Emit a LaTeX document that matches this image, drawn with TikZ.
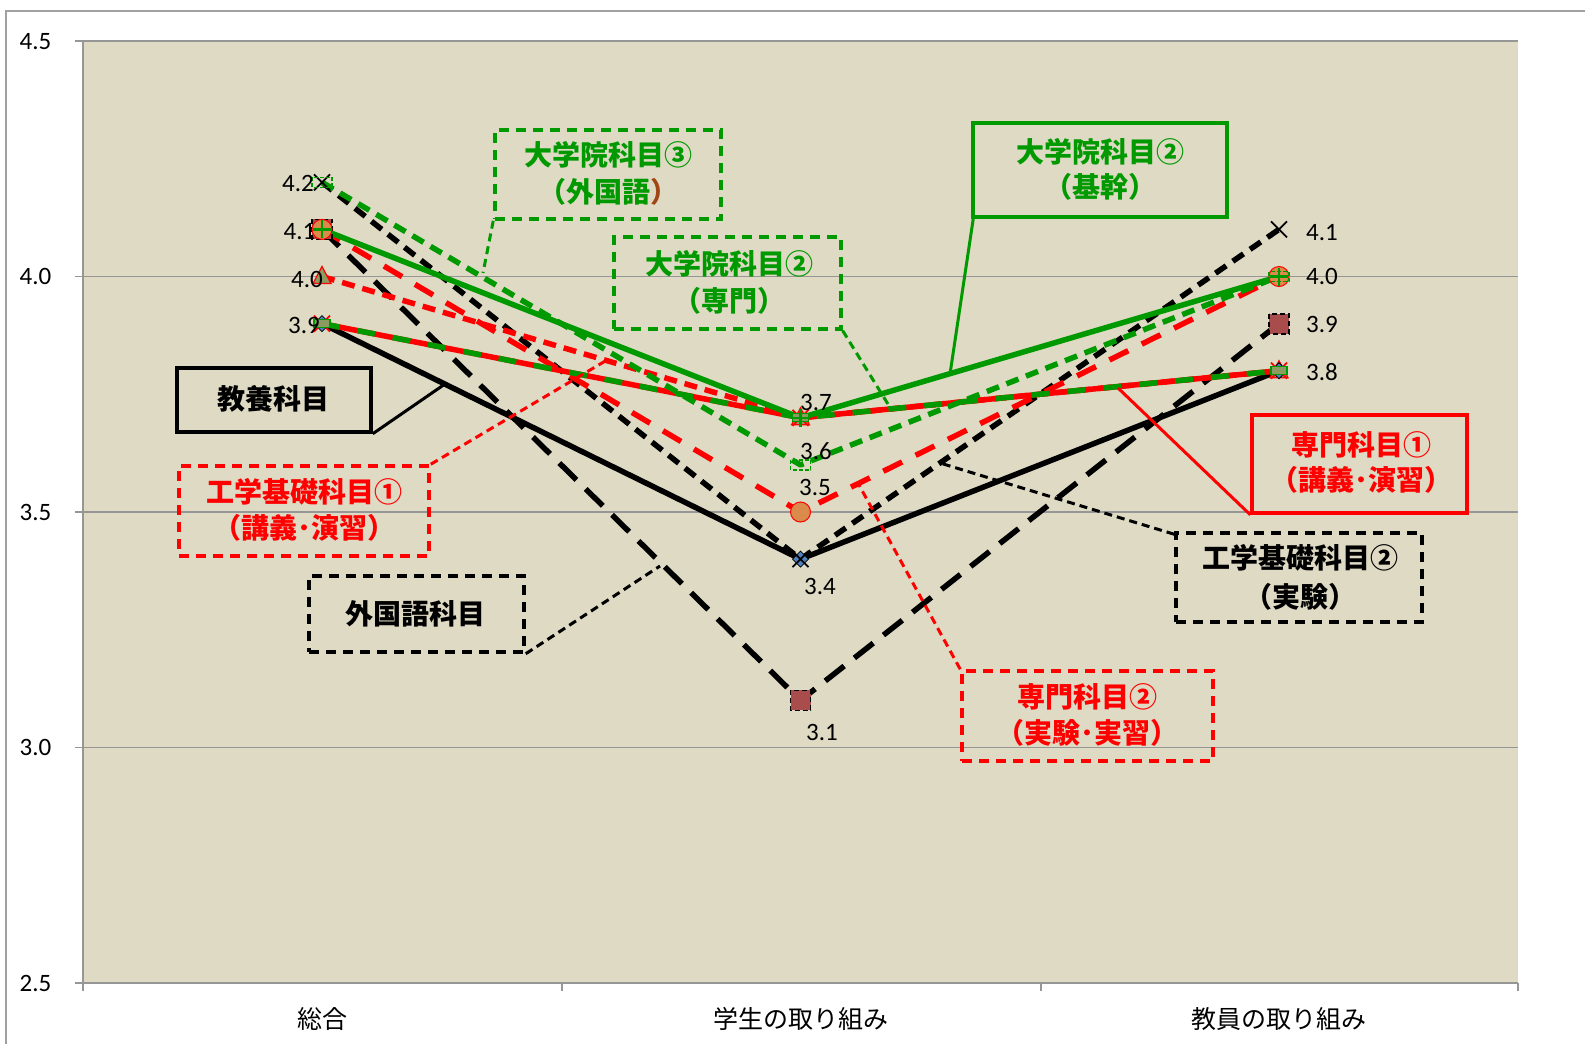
\documentclass[tikz,border=0pt]{standalone}
\usepackage{fontspec}
\setmainfont{Carlito}
\newfontfamily\jp{Noto Sans CJK JP}
\usetikzlibrary{shapes.geometric,shapes.misc}
\definecolor{plotbg}{RGB}{222,218,196}
\definecolor{gridc}{RGB}{150,150,150}
\definecolor{framec}{RGB}{160,160,160}
\definecolor{gr}{RGB}{0,153,0}
\definecolor{rd}{RGB}{255,0,0}
\definecolor{sqfill}{RGB}{168,76,76}
\definecolor{circfill}{RGB}{218,138,74}
\definecolor{trifill}{RGB}{140,155,95}
\definecolor{dia}{RGB}{79,129,189}
\definecolor{brownp}{RGB}{160,70,20}
\tikzset{
  ser/.style={line width=5.5pt, line join=round},
  longdash/.style={dash pattern=on 24pt off 13pt},
  shortdash/.style={dash pattern=on 13pt off 8pt},
  reddash/.style={dash pattern=on 21pt off 15pt},
  conn/.style={line width=3pt},
  conndash/.style={line width=3pt, dash pattern=on 8pt off 5pt},
  boxsolid/.style={draw, line width=3.5pt, inner sep=0pt},
  boxdash/.style={draw, line width=3.5pt, inner sep=0pt, dash pattern=on 10pt off 7pt},
  boxtext/.style={font=\jp\bfseries\fontsize{28}{30}\selectfont, text height=21pt, text depth=0pt, inner sep=0pt},
  val/.style={font=\fontsize{25}{27}\selectfont, text height=16pt, text depth=0pt, inner sep=0pt},
  cat/.style={font=\jp\fontsize{25}{27}\selectfont, text height=19pt, text depth=0pt, inner sep=0pt},
  pics/xm/.style={code={\draw[#1, line width=1.8pt] (-8,-8)--(8,8) (-8,8)--(8,-8);}},
  pics/plusm/.style={code={\draw[gr, line width=2.4pt] (-9,0)--(9,0) (0,-9)--(0,9);}},
  pics/diam/.style={code={\filldraw[fill=dia, draw=black, line width=0.8pt] (0,-8)--(8,0)--(0,8)--(-8,0)--cycle;}},
  pics/trim/.style={code={\filldraw[fill=trifill, draw=rd, line width=1.2pt] (0,-10)--(9,7)--(-9,7)--cycle;}},
  pics/circm/.style={code={\filldraw[fill=circfill, draw=rd, line width=1pt] (0,0) circle (10);}},
  pics/sqm/.style={code={\filldraw[fill=sqfill, draw=black, line width=1.8pt, dash pattern=on 5pt off 3pt] (-10,-10) rectangle (10,10);}},
  pics/gdrect/.style={code={\draw[gr, line width=1.6pt, dash pattern=on 4pt off 2pt] (-10,-5) rectangle (10,5);}},
  pics/gsq/.style={code={\filldraw[fill=trifill, draw=gr, line width=1.2pt] (-8,-4) rectangle (8,4);}},
}
\begin{document}
\begin{tikzpicture}[x=1pt, y={(0pt,-1pt)}]
\useasboundingbox (0,0) rectangle (1585,1044);
% frame and plot area
\fill[white] (0,0) rectangle (1585,1044);
\draw[framec, line width=2pt] (6,1044) -- (6,11) -- (1585,11);
\fill[plotbg] (83,41) rectangle (1518,983);
\foreach \yy in {41,276.5,512,747.5,983} {\draw[gridc, line width=1.5pt] (75,\yy) -- (1518,\yy);}
\draw[gridc, line width=1.5pt] (83,41) -- (83,991);
\foreach \xx in {562,1041,1518} {\draw[gridc, line width=1.5pt] (\xx,983) -- (\xx,991);}
% axis labels
\node[val] (y45) at (35.5,41) {4.5};
\node[val] (y40) at (35.5,276.5) {4.0};
\node[val] (y35) at (35.5,512) {3.5};
\node[val] (y30) at (35.5,747.5) {3.0};
\node[val] (y25) at (35.5,983) {2.5};
\node[cat] (x1) at (322,1018.5) {総合};
\node[cat] (x2) at (800.5,1018.5) {学生の取り組み};
\node[cat] (x3) at (1279,1018.5) {教員の取り組み};
% data points
\coordinate (a42) at (322,182.3);
\coordinate (a41) at (322,229.4);
\coordinate (a40) at (322,276.5);
\coordinate (a39) at (322,323.6);
\coordinate (b37) at (800.5,417.8);
\coordinate (b36) at (800.5,464.9);
\coordinate (b35) at (800.5,512);
\coordinate (b34) at (800.5,559.1);
\coordinate (b31) at (800.5,700.4);
\coordinate (c41) at (1279,229.4);
\coordinate (c40) at (1279,276.5);
\coordinate (c39) at (1279,323.6);
\coordinate (c38) at (1279,370.7);
% series
\draw[ser, black] (a39) -- (b34) -- (c38);
\draw[ser, black, longdash] (a41) -- (b31) -- (c39);
\draw[ser, black, shortdash] (a42) -- (b34) -- (c41);
\draw[ser, rd, shortdash] (a40) -- (b37) -- (c38);
\draw[ser, rd, reddash] (a41) -- (b35) -- (c40);
\draw[ser, rd] (a39) -- (b37) -- (c38);
\draw[ser, gr, dash pattern=on 18pt off 18pt] (a39) -- (b37) -- (c38);
\draw[ser, gr] (a41) -- (b37) -- (c40);
\draw[ser, gr, shortdash] (a42) -- (b36) -- (c40);
% markers
\foreach \p in {a41,b31,c39} {\pic at (\p) {sqm};}
\foreach \p in {a41,b35,c40} {\pic at (\p) {circm};}
\foreach \p in {a40,b37,c38} {\pic at (\p) {trim};}
\foreach \p in {a39,b34,c38} {\pic at (\p) {diam};}
\foreach \p in {a42,b34,c41} {\pic at (\p) {xm=black};}
\foreach \p in {a39,b37,c38} {\pic at (\p) {xm=rd};}
\foreach \p in {a39,b37,c38} {\pic at (\p) {gsq};}
\foreach \p in {a42,b36,c40} {\pic at (\p) {gdrect};}
\foreach \p in {a41,b37,c40} {\pic at (\p) {plusm};}
% value labels
\node[val] (v1) at (298,183) {4.2};
\node[val] (v2) at (299.5,231) {4.1};
\node[val] (v3) at (307,279) {4.0};
\node[val] (v4) at (304,325) {3.9};
\node[val] (v5) at (816,402) {3.7};
\node[val] (v6) at (816,451) {3.6};
\node[val] (v7) at (815,487) {3.5};
\node[val] (v8) at (820,586) {3.4};
\node[val] (v9) at (822,732) {3.1};
\node[val] (v10) at (1322,232) {4.1};
\node[val] (v11) at (1322,276) {4.0};
\node[val] (v12) at (1322,324) {3.9};
\node[val] (v13) at (1322,372) {3.8};
% label boxes
\node[boxdash, gr, minimum width=226pt, minimum height=89pt] (b1) at (608,174.5) {};
\node[boxtext, text=gr] (b1a) at (608,155) {大学院科目③};
\node[boxtext, text=gr] (b1b) at (608,192) {（外国語\textcolor{brownp}{）}};
\node[boxdash, gr, minimum width=227pt, minimum height=92pt] (b2) at (727.5,283) {};
\node[boxtext, text=gr] (b2a) at (729,264) {大学院科目②};
\node[boxtext, text=gr] (b2b) at (729,301) {（専門）};
\node[boxsolid, gr, minimum width=254pt, minimum height=94pt] (b3) at (1100,170) {};
\node[boxtext, text=gr] (b3a) at (1100,152) {大学院科目②};
\node[boxtext, text=gr] (b3b) at (1100,187) {（基幹）};
\node[boxsolid, black, minimum width=194pt, minimum height=64pt] (b4) at (274,400) {};
\node[boxtext] (b4a) at (273,399) {教養科目};
\node[boxdash, rd, minimum width=250pt, minimum height=90pt] (b5) at (304,511) {};
\node[boxtext, text=rd] (b5a) at (304,492) {工学基礎科目①};
\node[boxtext, text=rd] (b5b) at (304,528) {（講義･演習）};
\node[boxdash, black, minimum width=215pt, minimum height=76pt] (b6) at (416.5,614) {};
\node[boxtext] (b6a) at (415,614) {外国語科目};
\node[boxdash, black, minimum width=246pt, minimum height=89pt] (b7) at (1299,577.5) {};
\node[boxtext] (b7a) at (1300,558) {工学基礎科目②};
\node[boxtext] (b7b) at (1300,597) {（実験）};
\node[boxsolid, rd, minimum width=215pt, minimum height=98pt] (b8) at (1359.5,464) {};
\node[boxtext, text=rd] (b8a) at (1361,445) {専門科目①};
\node[boxtext, text=rd] (b8b) at (1361,480) {（講義･演習）};
\node[boxdash, rd, minimum width=251pt, minimum height=90pt] (b9) at (1087.5,716) {};
\node[boxtext, text=rd] (b9a) at (1087,697) {専門科目②};
\node[boxtext, text=rd] (b9b) at (1087,733) {（実験･実習）};
% connector ends
\coordinate (k1) at (483,273);
\coordinate (k2) at (891,409);
\coordinate (k3) at (950,374);
\coordinate (k4) at (445,384);
\coordinate (k5) at (607,360);
\coordinate (k6) at (660,566);
\coordinate (k7) at (940,463);
\coordinate (k8) at (1118,388);
\coordinate (k9) at (859,485);
% connectors
\draw[conndash, gr] (b1.south west) -- (k1);
\draw[conndash, gr] (b2.south east) -- (k2);
\draw[conn, gr] ([xshift=2pt]b3.south west) -- (k3);
\draw[conn, black] (b4.south east) -- (k4);
\draw[conndash, rd] (b5.north east) -- (k5);
\draw[conndash, black] (b6.south east) -- (k6);
\draw[conndash, black] ([yshift=-3pt]b7.north west) -- (k7);
\draw[conn, rd] (b8.south west) -- (k8);
\draw[conndash, rd] (b9.north west) -- (k9);
\end{tikzpicture}
\end{document}
